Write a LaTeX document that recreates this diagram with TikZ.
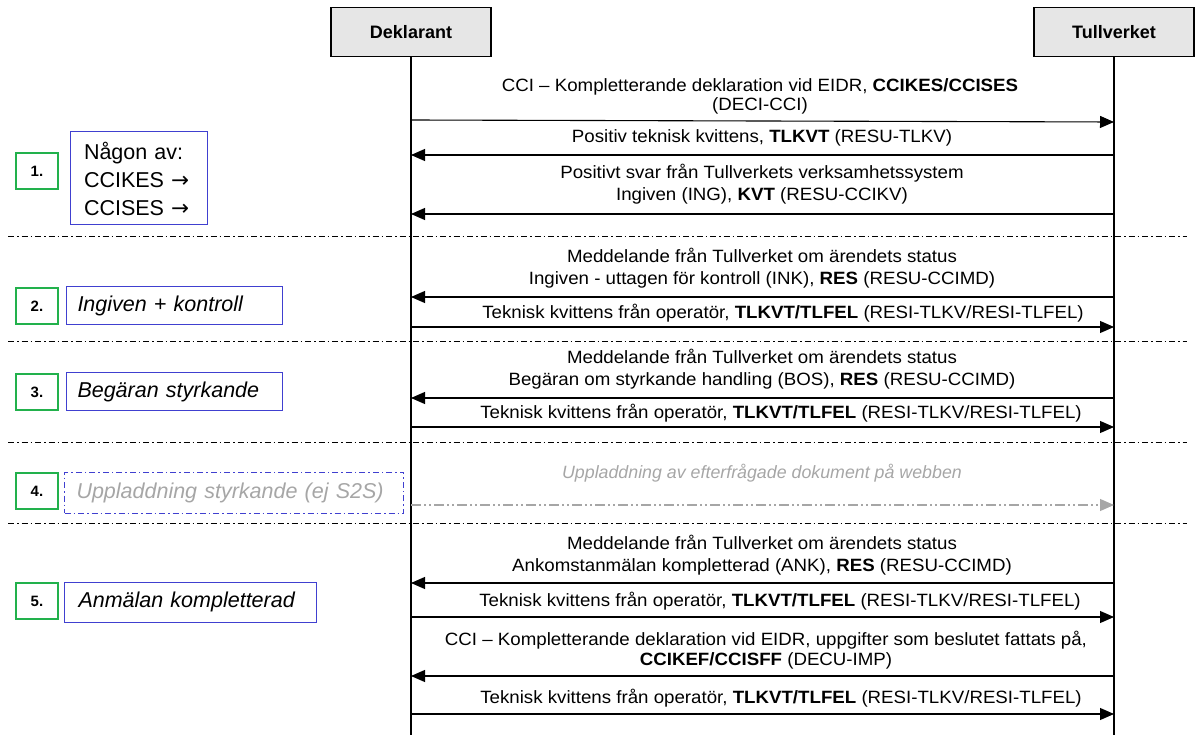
\documentclass[tikz,border=0pt]{standalone}
\usepackage{fontspec}
\setmainfont{Liberation Sans}
\newfontfamily\lblfont[FakeStretch=1.05,Ligatures=TeX]{Liberation Sans}
\newfontfamily\symfont{DejaVu Sans}
\usetikzlibrary{arrows.meta}
\definecolor{stepgreen}{HTML}{22B14C}
\definecolor{stepblue}{HTML}{4040D0}
\definecolor{hdrgray}{HTML}{E6E6E6}
\definecolor{txtgray}{HTML}{A6A6A6}
\begin{document}
\begin{tikzpicture}[x=1pt,y=-1pt,
  hdr/.style={draw, line width=1.6pt, fill=hdrgray, minimum width=160pt, minimum height=49pt, inner sep=0pt, font=\fontsize{18}{21}\selectfont\bfseries},
  lifeline/.style={line width=1.1pt},
  msg/.style={line width=1.1pt, -{Triangle[length=14pt,width=12pt]}},
  lbl/.style={align=center, inner sep=0pt, font=\lblfont\fontsize{17.8}{21.5}\selectfont},
  sep/.style={line width=1pt, dash pattern=on 6pt off 3pt on 1.5pt off 3pt},
  numbox/.style={draw=stepgreen, line width=1.4pt, minimum width=42pt, minimum height=36pt, inner sep=0pt, font=\fontsize{15}{17}\selectfont\bfseries},
  stepbox/.style={draw=stepblue, line width=1pt, inner sep=0pt, anchor=west, font=\fontsize{21.5}{26}\selectfont\itshape},
]
\useasboundingbox (0,0) rectangle (1195,735);
% headers
\node[hdr] (dek) at (411,32) {Deklarant};
\node[hdr] (tul) at (1114,32) {Tullverket};
\coordinate (dekend) at (411,735);
\coordinate (tulend) at (1114,735);
\draw[lifeline] (dek.south) -- (dekend);
\draw[lifeline] (tul.south) -- (tulend);
% separators
\coordinate (s1a) at (8,237); \coordinate (s1b) at (1187,237);
\coordinate (s2a) at (8,342); \coordinate (s2b) at (1187,342);
\coordinate (s3a) at (8,442); \coordinate (s3b) at (1187,442);
\coordinate (s4a) at (8,523); \coordinate (s4b) at (1187,523);
\draw[sep] (s1a) -- (s1b);
\draw[sep] (s2a) -- (s2b);
\draw[sep] (s3a) -- (s3b);
\draw[sep] (s4a) -- (s4b);
% messages
\coordinate (d1) at (411,120); \coordinate (t1) at (1114,122);
\draw[msg] (d1) -- (t1);
\node[lbl, font=\lblfont\fontsize{17.8}{19}\selectfont] (l1) at (760,96) {CCI – Kompletterande deklaration vid EIDR, \textbf{CCIKES/CCISES}\\(DECI-CCI)};
\coordinate (d2) at (411,155); \coordinate (t2) at (1114,155);
\draw[msg] (t2) -- (d2);
\node[lbl] (l2) at (762,138) {Positiv teknisk kvittens, \textbf{TLKVT} (RESU-TLKV)};
\coordinate (d3) at (411,214); \coordinate (t3) at (1114,214);
\draw[msg] (t3) -- (d3);
\node[lbl] (l3) at (762,184) {Positivt svar från Tullverkets verksamhetssystem\\Ingiven (ING), \textbf{KVT} (RESU-CCIKV)};
\coordinate (d4) at (411,297); \coordinate (t4) at (1114,297);
\draw[msg] (t4) -- (d4);
\node[lbl] (l4) at (762,268) {Meddelande från Tullverket om ärendets status\\Ingiven - uttagen för kontroll (INK), \textbf{RES} (RESU-CCIMD)};
\coordinate (d5) at (411,327); \coordinate (t5) at (1114,327);
\draw[msg] (d5) -- (t5);
\node[lbl] (l5) at (783,313) {Teknisk kvittens från operatör, \textbf{TLKVT/TLFEL} (RESI-TLKV/RESI-TLFEL)};
\coordinate (d6) at (411,398); \coordinate (t6) at (1114,398);
\draw[msg] (t6) -- (d6);
\node[lbl] (l6) at (762,369) {Meddelande från Tullverket om ärendets status\\Begäran om styrkande handling (BOS), \textbf{RES} (RESU-CCIMD)};
\coordinate (d7) at (411,427); \coordinate (t7) at (1114,427);
\draw[msg] (d7) -- (t7);
\node[lbl] (l7) at (781,413) {Teknisk kvittens från operatör, \textbf{TLKVT/TLFEL} (RESI-TLKV/RESI-TLFEL)};
\coordinate (d8) at (411,505); \coordinate (t8) at (1114,505);
\draw[line width=1.1pt, draw=txtgray, dash pattern=on 10pt off 3pt on 2pt off 3pt on 2pt off 3pt, -{Triangle[length=14pt,width=12pt,fill=txtgray]}] (d8) -- (t8);
\node[lbl, text=txtgray, font=\fontsize{17.8}{21}\selectfont\itshape] (l8) at (762,473) {Uppladdning av efterfrågade dokument på webben};
\coordinate (d9) at (411,583); \coordinate (t9) at (1114,583);
\draw[msg] (t9) -- (d9);
\node[lbl] (l9) at (762,555) {Meddelande från Tullverket om ärendets status\\Ankomstanmälan kompletterad (ANK), \textbf{RES} (RESU-CCIMD)};
\coordinate (d10) at (411,617); \coordinate (t10) at (1114,617);
\draw[msg] (d10) -- (t10);
\node[lbl] (l10) at (780,601) {Teknisk kvittens från operatör, \textbf{TLKVT/TLFEL} (RESI-TLKV/RESI-TLFEL)};
\coordinate (d11) at (411,676); \coordinate (t11) at (1114,676);
\draw[msg] (t11) -- (d11);
\node[lbl, font=\lblfont\fontsize{17.8}{20}\selectfont] (l11) at (766,650) {CCI – Kompletterande deklaration vid EIDR, uppgifter som beslutet fattats på,\\\textbf{CCIKEF/CCISFF} (DECU-IMP)};
\coordinate (d12) at (411,714); \coordinate (t12) at (1114,714);
\draw[msg] (d12) -- (t12);
\node[lbl] (l12) at (781,698) {Teknisk kvittens från operatör, \textbf{TLKVT/TLFEL} (RESI-TLKV/RESI-TLFEL)};
% step boxes
\node[numbox] (n1) at (37,171) {1.};
\node[numbox] (n2) at (37,306) {2.};
\node[numbox] (n3) at (37,392) {3.};
\node[numbox] (n4) at (37,491) {4.};
\node[numbox] (n5) at (37,601) {5.};
\node[stepbox, minimum width=137pt, minimum height=93pt, text width=110pt, align=left, font=\fontsize{21.5}{28}\selectfont] (b1) at (70,178.5) {Någon av:\\CCIKES {\symfont →}\\CCISES {\symfont →}};
\node[stepbox, minimum width=216pt, minimum height=38pt, text width=194pt, align=left] (b2) at (66,306) {Ingiven + kontroll};
\node[stepbox, minimum width=216pt, minimum height=38pt, text width=194pt, align=left] (b3) at (66,392) {Begäran styrkande};
\node[stepbox, minimum width=339pt, minimum height=41pt, text width=315pt, align=left, text=txtgray, dash pattern=on 6pt off 3pt on 1.5pt off 3pt] (b4) at (64,492.5) {Uppladdning styrkande (ej S2S)};
\node[stepbox, minimum width=252pt, minimum height=40pt, text width=224pt, align=left] (b5) at (64,602) {Anmälan kompletterad};
\end{tikzpicture}
\end{document}
